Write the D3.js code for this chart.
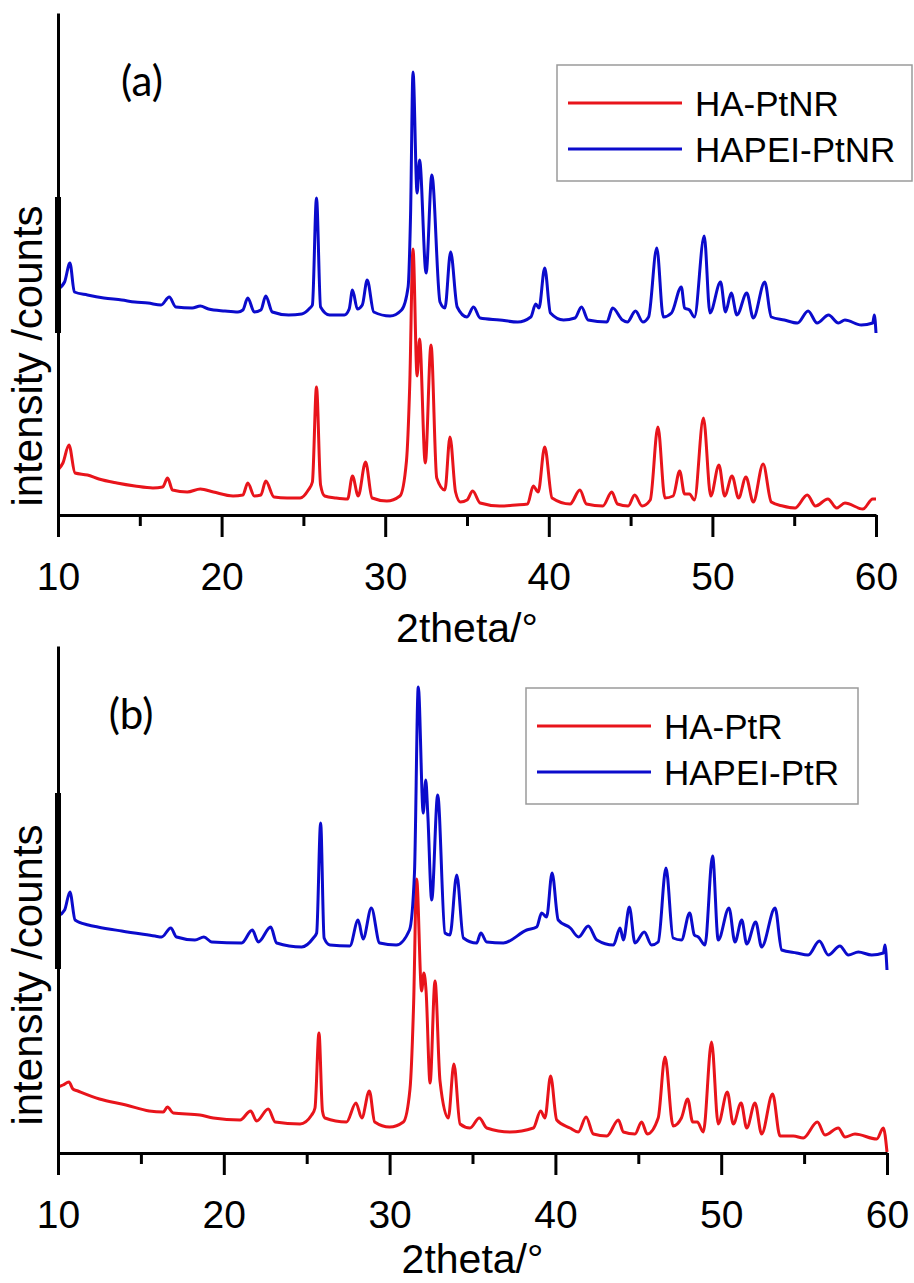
<!DOCTYPE html>
<html>
<head>
<meta charset="utf-8">
<script src="https://cdn.jsdelivr.net/npm/d3@7"></script>
<style>
  body { margin: 0; background: #fff; }
  svg text { font-family: "Liberation Sans", Arial, sans-serif; fill: #000; }
</style>
</head>
<body>
<svg width="914" height="1283"></svg>
<script>
// XRD patterns, [2theta, intensity (a.u., stacked)]
const haPtNR = [[10.0,450],[10.3,520],[10.67,700],[11.04,420],[11.8,400],[12.5,360],[13.6,320],[14.7,290],[15.8,270],[16.4,280],[16.7,370],[17.0,250],[17.9,230],[18.7,260],[19.5,230],[20.7,190],[21.3,200],[21.6,320],[22.0,190],[22.4,200],[22.7,340],[23.2,180],[24.0,170],[24.8,170],[25.3,250],[25.55,330],[25.8,1280],[26.05,300],[26.3,190],[27.0,170],[27.7,160],[28.0,390],[28.35,190],[28.8,530],[29.2,170],[30.1,140],[30.9,190],[31.3,540],[31.5,1300],[31.7,2660],[31.95,1390],[32.1,1760],[32.45,520],[32.8,1700],[33.15,370],[33.65,250],[33.96,780],[34.3,230],[34.6,130],[35.0,150],[35.35,240],[35.8,120],[37.0,90],[38.0,100],[38.7,110],[39.05,290],[39.35,230],[39.75,680],[40.2,170],[41.3,110],[41.9,250],[42.3,110],[43.3,90],[43.85,230],[44.2,110],[44.85,90],[45.25,200],[45.7,90],[46.2,150],[46.67,880],[47.1,170],[47.6,190],[48.0,440],[48.3,210],[48.6,210],[48.9,150],[49.45,970],[49.9,190],[50.4,500],[50.75,190],[51.2,390],[51.6,170],[52.05,380],[52.5,130],[53.1,510],[53.6,130],[54.3,90],[55.05,70],[55.8,200],[56.3,90],[57.06,160],[57.6,70],[58.1,120],[59.2,60],[59.8,160],[60.0,160]];

const hapeiPtNR = [[10.0,2260],[10.4,2330],[10.73,2520],[11.0,2230],[11.8,2200],[12.8,2170],[13.9,2150],[14.7,2130],[15.5,2120],[16.3,2100],[16.8,2180],[17.2,2080],[18.2,2070],[18.7,2090],[19.2,2060],[20.2,2040],[21.0,2030],[21.3,2050],[21.6,2170],[22.0,2030],[22.4,2050],[22.7,2190],[23.1,2030],[24.1,2000],[24.9,2010],[25.4,2070],[25.55,2100],[25.8,3170],[26.05,2080],[26.6,2000],[27.5,2000],[27.8,2060],[28.0,2250],[28.3,2060],[28.6,2100],[28.9,2350],[29.3,2030],[30.3,1990],[31.0,2050],[31.4,2280],[31.55,3000],[31.7,4430],[31.95,3220],[32.1,3550],[32.5,2420],[32.85,3400],[33.35,2130],[33.65,2070],[34.0,2630],[34.4,2080],[35.0,1980],[35.4,2080],[35.8,1970],[37.0,1950],[38.1,1930],[38.9,1980],[39.2,2110],[39.4,2070],[39.75,2470],[40.1,2020],[40.9,1950],[41.6,1970],[42.0,2080],[42.4,1950],[43.55,1930],[43.9,2070],[44.5,1950],[44.8,1930],[45.3,2040],[45.75,1930],[46.1,1980],[46.6,2670],[47.0,1980],[47.5,2020],[48.1,2280],[48.3,2070],[48.6,2050],[48.9,1980],[49.5,2790],[49.85,2020],[50.5,2330],[50.8,2030],[51.15,2220],[51.5,2000],[52.1,2220],[52.5,1970],[53.2,2330],[53.6,1980],[54.4,1950],[55.2,1920],[55.85,2040],[56.4,1920],[57.1,2000],[57.7,1920],[58.1,1950],[59.1,1900],[59.8,1920],[59.9,2000],[60.0,1820]];

const haPtR = [[10.0,660],[10.3,680],[10.66,710],[10.9,640],[11.2,620],[12.5,540],[14.1,480],[15.5,420],[16.35,410],[16.6,460],[16.95,400],[18.56,380],[19.37,350],[20.98,330],[21.62,420],[21.98,320],[22.68,440],[23.1,310],[24.6,290],[25.3,380],[25.5,450],[25.74,1200],[25.95,420],[26.1,350],[27.4,310],[27.97,500],[28.32,350],[28.78,620],[29.1,310],[30.0,260],[30.83,310],[31.23,640],[31.45,1500],[31.63,2740],[31.93,1620],[32.07,1800],[32.2,1620],[32.44,700],[32.74,1720],[33.04,720],[33.54,350],[33.88,890],[34.25,290],[34.85,250],[35.41,350],[35.86,250],[37.26,210],[38.67,250],[39.11,420],[39.37,350],[39.71,770],[40.08,330],[40.88,250],[41.38,210],[41.85,360],[42.29,190],[43.1,170],[43.8,330],[44.1,210],[44.8,190],[45.2,310],[45.54,190],[46.2,350],[46.61,960],[47.1,270],[47.6,350],[47.98,540],[48.28,310],[48.56,310],[48.92,210],[49.42,1110],[49.82,290],[50.37,610],[50.73,290],[51.2,500],[51.54,250],[52.04,500],[52.44,190],[53.1,590],[53.55,170],[54.35,170],[54.95,150],[55.8,310],[56.26,180],[57.06,250],[57.47,160],[58.07,190],[59.38,140],[59.78,250],[60.0,10]];

const hapeiPtR = [[10.0,2370],[10.4,2430],[10.72,2610],[11.03,2330],[11.83,2280],[12.4,2260],[13.84,2220],[15.85,2170],[16.25,2160],[16.8,2250],[17.15,2160],[18.26,2130],[18.8,2160],[19.27,2110],[21.08,2100],[21.72,2230],[22.08,2110],[22.83,2260],[23.19,2100],[24.7,2060],[25.4,2150],[25.6,2200],[25.84,3300],[26.05,2150],[26.4,2080],[27.6,2070],[28.1,2330],[28.4,2140],[28.9,2450],[29.4,2100],[30.4,2080],[31.2,2230],[31.5,2800],[31.73,4660],[32.03,3400],[32.18,3730],[32.3,3400],[32.54,2530],[32.9,3580],[33.34,2200],[33.64,2180],[34.05,2780],[34.45,2150],[35.25,2100],[35.5,2200],[35.86,2110],[36.86,2100],[38.27,2230],[38.87,2260],[39.17,2400],[39.47,2360],[39.8,2800],[40.17,2330],[40.9,2250],[41.4,2160],[41.98,2270],[42.5,2130],[43.5,2080],[43.9,2250],[44.1,2130],[44.46,2460],[44.8,2100],[45.36,2210],[45.8,2080],[46.2,2110],[46.67,2850],[47.1,2150],[47.6,2130],[48.1,2400],[48.38,2180],[48.62,2160],[49.02,2080],[49.48,2970],[49.82,2130],[50.47,2450],[50.83,2110],[51.24,2330],[51.54,2090],[52.08,2310],[52.44,2060],[53.25,2450],[53.65,2030],[54.55,2000],[55.25,1980],[55.92,2120],[56.46,1980],[57.16,2070],[57.67,1980],[58.27,2010],[59.08,1980],[59.78,2000],[59.88,2080],[60.0,1830]];

const xTicks = [10, 20, 30, 40, 50, 60];
const xMinor = [15, 25, 35, 45, 55];
const red = "#e8141b";
const blue = "#0b0bcc";

const panels = [
  { tag: "(a)", names: ["HA-PtNR", "HAPEI-PtNR"], data: [haPtNR, hapeiPtNR],
    left: 58, right: 876, top: 13, bottom: 515, yMax: 5020, bar: [1820, 3180],
    tagX: 142, legend: { x: 557, y: 65, w: 355, h: 116 }, labelY: 356, titleY: 642 },
  { tag: "(b)", names: ["HA-PtR", "HAPEI-PtR"], data: [haPtR, hapeiPtR],
    left: 58, right: 887, top: 646, bottom: 1153, yMax: 5070, bar: [1840, 3600],
    tagX: 131, legend: { x: 526, y: 688, w: 332, h: 116 }, labelY: 975, titleY: 1273 }
];

const svg = d3.select("svg");

function drawPanel(p) {
  const x = d3.scaleLinear().domain([10, 60]).range([p.left, p.right]);
  const y = d3.scaleLinear().domain([0, p.yMax]).range([p.bottom, p.top]);
  const g = svg.append("g");
  const colors = [red, blue];

  const line = d3.line()
    .x(d => x(d[0]))
    .y(d => y(d[1]))
    .curve(d3.curveMonotoneX);

  p.data.forEach((s, i) => {
    g.append("path")
      .attr("d", line(s))
      .attr("fill", "none")
      .attr("stroke", colors[i])
      .attr("stroke-width", 3)
      .attr("stroke-linejoin", "round");
  });

  // x axis, major + minor ticks
  const ax = g.append("g").attr("transform", `translate(0,${p.bottom})`)
    .call(d3.axisBottom(x).tickValues(xTicks).tickSize(22).tickSizeOuter(0).tickPadding(25));
  ax.selectAll("text").style("font-size", "39px");
  const mn = g.append("g").attr("transform", `translate(0,${p.bottom})`)
    .call(d3.axisBottom(x).tickValues(xMinor).tickSize(11).tickFormat(""));
  mn.select(".domain").remove();
  g.selectAll(".domain, .tick line").attr("stroke", "#000").attr("stroke-width", 3);

  // y axis, no ticks
  const ay = g.append("g").attr("transform", `translate(${p.left},0)`)
    .call(d3.axisLeft(y).tickValues([]).tickSizeOuter(0));
  ay.select(".domain").attr("stroke", "#000").attr("stroke-width", 3);
  g.append("line")
    .attr("x1", p.left).attr("x2", p.left)
    .attr("y1", y(p.bar[0])).attr("y2", y(p.bar[1]))
    .attr("stroke", "#000").attr("stroke-width", 6);

  g.append("text")
    .attr("x", (p.left + p.right) / 2)
    .attr("y", p.titleY)
    .attr("text-anchor", "middle")
    .style("font-size", "41px")
    .text("2theta/°");

  g.append("text")
    .attr("transform", `translate(42,${p.labelY}) rotate(-90)`)
    .attr("text-anchor", "middle")
    .style("font-size", "42px")
    .text("intensity /counts");

  g.append("text")
    .attr("x", p.tagX).attr("y", p.top + 83)
    .attr("text-anchor", "middle")
    .style("font-family", "Lato, 'Open Sans', sans-serif")
    .style("font-size", "42px")
    .text(p.tag);

  // legend
  const L = p.legend;
  const lg = g.append("g").attr("transform", `translate(${L.x},${L.y})`);
  lg.append("rect")
    .attr("width", L.w).attr("height", L.h)
    .attr("fill", "#fff").attr("stroke", "#9a9a9a").attr("stroke-width", 1.5);
  p.names.forEach((n, i) => {
    const ly = 38 + i * 46;
    lg.append("line")
      .attr("x1", 11).attr("x2", 125).attr("y1", ly).attr("y2", ly)
      .attr("stroke", colors[i]).attr("stroke-width", 3);
    lg.append("text")
      .attr("x", 138).attr("y", ly).attr("dy", "0.36em")
      .style("font-size", "35px")
      .text(n);
  });
}

panels.forEach(drawPanel);
</script>
</body>
</html>
